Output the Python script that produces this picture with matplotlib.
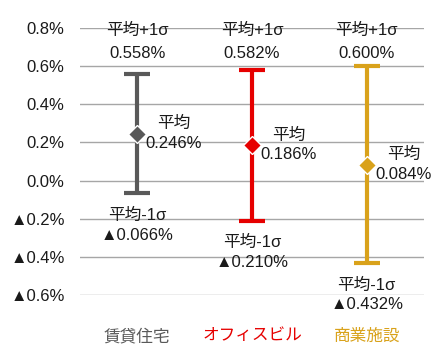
import matplotlib

matplotlib.use("Agg")

import matplotlib.pyplot as plt
from matplotlib.ticker import FuncFormatter

plt.rcParams["font.family"] = ["Liberation Sans", "Noto Sans CJK JP", "DejaVu Sans"]

categories = ["賃貸住宅", "オフィスビル", "商業施設"]
means = [0.246, 0.186, 0.084]
plus_1sigma = [0.558, 0.582, 0.600]
minus_1sigma = [-0.066, -0.210, -0.432]
colors = ["#595959", "#E60000", "#D9A21B"]
yticks = [0.8, 0.6, 0.4, 0.2, 0.0, -0.2, -0.4, -0.6]


def pct(v):
    if v < 0:
        return f"▲{abs(v):.3f}%"
    return f"{v:.3f}%"


def tick_fmt(v, _pos):
    if v < -1e-9:
        return f"▲{abs(v):.1f}%"
    return f"{abs(v):.1f}%"


fig = plt.figure(figsize=(4.48, 3.62), dpi=100)
ax = fig.add_axes([80 / 448, 67 / 362, 344 / 448, 267 / 362])

txt = dict(ha="center", va="center", fontsize=12, color="#1a1a1a", zorder=4)
for i, (m, hi, lo, c) in enumerate(zip(means, plus_1sigma, minus_1sigma, colors)):
    ax.errorbar(
        i, m, yerr=[[m - lo], [hi - m]],
        fmt="none", ecolor=c, elinewidth=3, capsize=9.5, capthick=3, zorder=2,
    )
    ax.plot(i, m, "D", color=c, markersize=9, markeredgecolor="white",
            markeredgewidth=1, zorder=3)
    ax.text(i, 0.79, "平均+1σ", **txt)
    ax.text(i, 0.668, pct(hi), **txt)
    ax.text(i + 0.32, m + 0.052, "平均", **txt)
    ax.text(i + 0.32, m - 0.05, pct(m), **txt)
    ax.text(i, lo - 0.115, "平均-1σ", **txt)
    ax.text(i, lo - 0.22, pct(lo), **txt)

ax.set_xlim(-0.5, 2.5)
ax.set_ylim(-0.6, 0.8)
ax.set_yticks(yticks)
ax.yaxis.set_major_formatter(FuncFormatter(tick_fmt))
ax.tick_params(axis="y", length=0, pad=11, labelsize=12, labelcolor="#1a1a1a")
ax.set_xticks(range(len(categories)))
ax.set_xticklabels(categories, fontsize=12)
ax.tick_params(axis="x", length=0, pad=24)
for lbl, c in zip(ax.get_xticklabels(), colors):
    lbl.set_color(c)
ax.grid(axis="y", color="#A6A6A6", linewidth=1)
ax.set_axisbelow(True)
for s in ax.spines.values():
    s.set_visible(False)

fig.savefig("out.png", dpi=100)
